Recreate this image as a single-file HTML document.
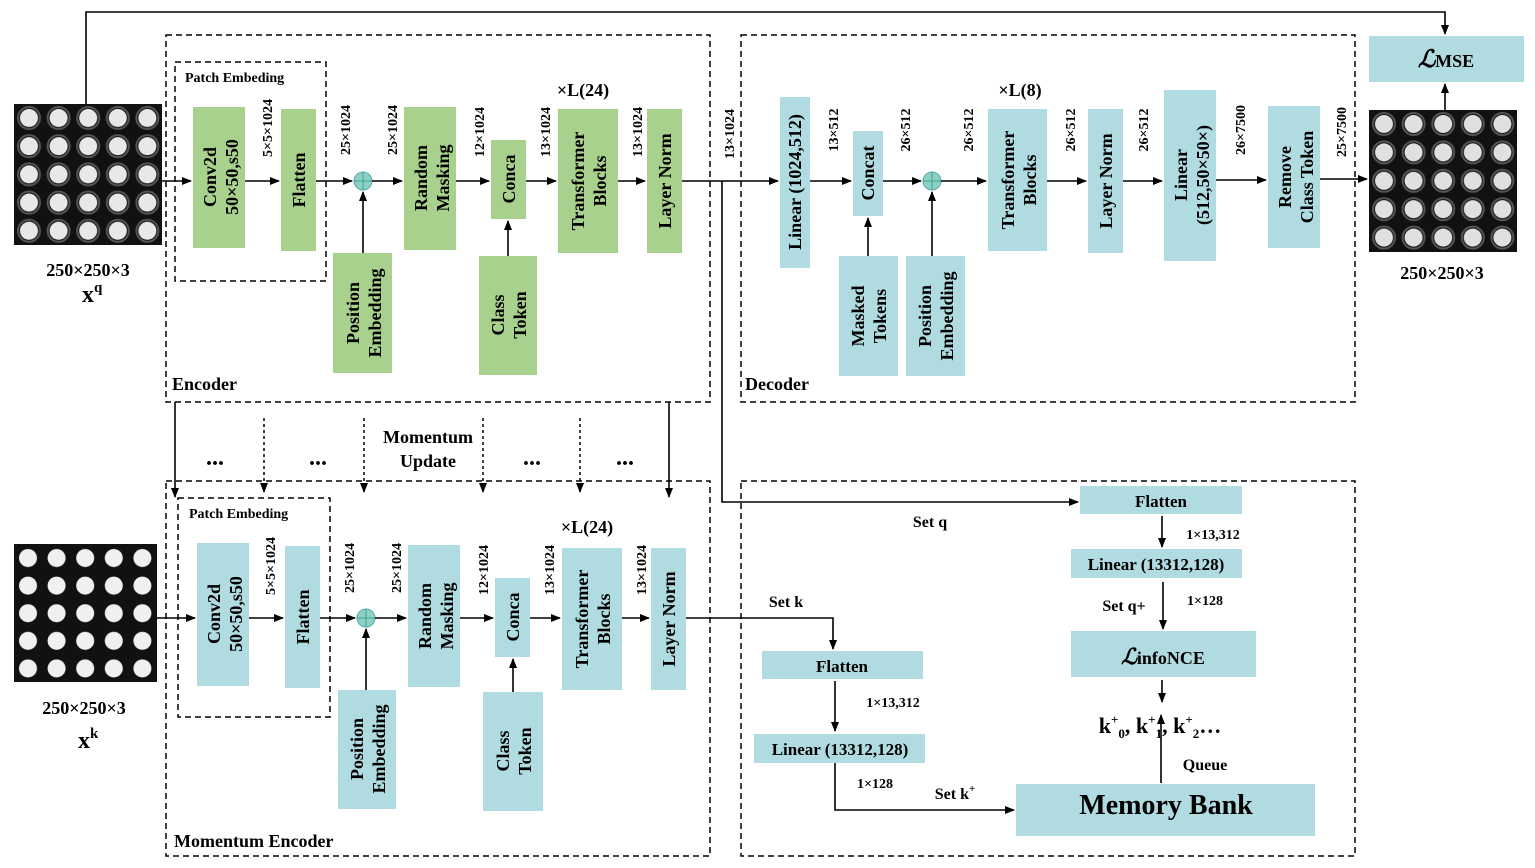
<!DOCTYPE html>
<html><head><meta charset="utf-8"><style>
html,body{margin:0;padding:0;background:#fff;}
svg{display:block;font-family:"Liberation Serif",serif;font-weight:bold;}
</style></head><body>
<svg width="1535" height="868" viewBox="0 0 1535 868" xmlns="http://www.w3.org/2000/svg">
<defs>
<marker id="a" markerWidth="10" markerHeight="8" refX="9" refY="4" orient="auto" markerUnits="userSpaceOnUse"><path d="M0,0 L10,4 L0,8 z" fill="#000"/></marker>
<pattern id="dots" x="14" y="104" width="29.6" height="28.2" patternUnits="userSpaceOnUse">
<rect width="29.6" height="28.2" fill="#111"/><circle cx="15" cy="14" r="9" fill="#e8e8e8"/><circle cx="15" cy="14" r="11" fill="none" stroke="#555" stroke-width="2"/></pattern>
<pattern id="dots2" x="14" y="544" width="28.6" height="27.6" patternUnits="userSpaceOnUse">
<rect width="28.6" height="27.6" fill="#111"/><circle cx="14" cy="14" r="9" fill="#f0f0f0"/></pattern>
<pattern id="dots3" x="1369" y="110" width="29.6" height="28.4" patternUnits="userSpaceOnUse">
<rect width="29.6" height="28.4" fill="#111"/><circle cx="15" cy="14" r="9" fill="#e0e0e0"/><circle cx="15" cy="14" r="11" fill="none" stroke="#555" stroke-width="2"/></pattern>
</defs>
<g fill="none" stroke="#000" stroke-width="1.5" stroke-dasharray="6,4">
<rect x="166" y="35" width="544" height="367"/>
<rect x="175" y="62" width="151" height="219"/>
<rect x="741" y="35" width="614" height="367"/>
<rect x="166" y="481" width="544" height="375"/>
<rect x="178" y="498" width="152" height="219"/>
<rect x="741" y="481" width="614" height="375"/>
</g>
<!-- images -->
<rect x="14" y="104" width="148" height="141" fill="url(#dots)"/>
<rect x="14" y="544" width="143" height="138" fill="url(#dots2)"/>
<rect x="1369" y="110" width="148" height="142" fill="url(#dots3)"/>
<!-- boxes encoder (green) -->
<g fill="#a9d18e">
<rect x="193" y="107" width="52" height="141"/>
<rect x="281" y="109" width="35" height="142"/>
<rect x="333" y="253" width="59" height="120"/>
<rect x="404" y="107" width="52" height="143"/>
<rect x="491" y="140" width="35" height="79"/>
<rect x="479" y="256" width="58" height="119"/>
<rect x="558" y="109" width="60" height="144"/>
<rect x="647" y="109" width="35" height="144"/>
</g>
<g fill="#b0dbe0">
<rect x="780" y="97" width="30" height="171"/>
<rect x="853" y="131" width="30" height="85"/>
<rect x="839" y="256" width="59" height="120"/>
<rect x="906" y="256" width="59" height="120"/>
<rect x="988" y="109" width="59" height="142"/>
<rect x="1088" y="109" width="35" height="144"/>
<rect x="1164" y="90" width="52" height="171"/>
<rect x="1268" y="106" width="52" height="142"/>
<rect x="1369" y="36" width="155" height="46"/>
<rect x="197" y="543" width="52" height="143"/>
<rect x="285" y="546" width="35" height="142"/>
<rect x="338" y="690" width="58" height="119"/>
<rect x="408" y="545" width="52" height="142"/>
<rect x="495" y="578" width="35" height="79"/>
<rect x="483" y="692" width="60" height="119"/>
<rect x="562" y="548" width="60" height="142"/>
<rect x="651" y="548" width="35" height="142"/>
<rect x="1080" y="486" width="162" height="28"/>
<rect x="1071" y="549" width="171" height="29"/>
<rect x="1071" y="631" width="185" height="46"/>
<rect x="1016" y="784" width="299" height="52"/>
<rect x="762" y="651" width="161" height="28"/>
<rect x="754" y="734" width="171" height="29"/>
</g>
<g fill="#8fcfc8" stroke="#5aa" stroke-width="1"><circle cx="363" cy="181" r="9"/><circle cx="932" cy="181" r="9"/><circle cx="366" cy="618" r="9"/></g>
<g stroke="#3a8" stroke-width="1"><path d="M354,181h18M363,172v18M923,181h18M932,172v18M357,618h18M366,609v18"/></g>
<!-- arrows -->
<g stroke="#000" stroke-width="1.6" fill="none" marker-end="url(#a)">
<path d="M162,181H191"/><path d="M245,181H279"/><path d="M316,181H352"/><path d="M363,253V192"/><path d="M372,181H402"/><path d="M456,181H489"/><path d="M526,181H556"/><path d="M508,256V221"/><path d="M618,181H645"/><path d="M682,181H778"/>
<path d="M810,181H851"/><path d="M883,181H921"/><path d="M868,256V218"/><path d="M932,256V192"/><path d="M941,181H986"/><path d="M1047,181H1086"/><path d="M1123,181H1162"/><path d="M1216,180H1266"/><path d="M1320,179H1367"/>
<path d="M86,104V12H1445V34"/><path d="M1445,110V84"/>
<path d="M157,618H195"/><path d="M249,618H283"/><path d="M320,618H355"/><path d="M366,690V629"/><path d="M375,618H406"/><path d="M460,618H493"/><path d="M530,618H560"/><path d="M513,692V659"/><path d="M622,618H649"/>
<path d="M686,618H833V649"/><path d="M722,181V502H1078"/>
<path d="M1162,516V547"/><path d="M1163,582V629"/><path d="M1162,680V702"/><path d="M1161,783V715"/>
<path d="M835,681V731"/><path d="M835,763V810H1014"/>
<path d="M175,402V497"/><path d="M669,402V497"/>
</g>
<g stroke="#000" stroke-width="1.5" fill="none" stroke-dasharray="3,3" marker-end="url(#a)">
<path d="M264,418V492"/><path d="M364,418V492"/><path d="M483,418V492"/><path d="M580,418V492"/>
</g>
<!-- horizontal texts -->
<g font-size="18" fill="#000">
<text x="172" y="390">Encoder</text>
<text x="745" y="390">Decoder</text>
<text x="174" y="847">Momentum  Encoder</text>
<text x="428" y="443" text-anchor="middle">Momentum</text>
<text x="428" y="467" text-anchor="middle">Update</text>
<text x="583" y="96" text-anchor="middle">×L(24)</text>
<text x="587" y="533" text-anchor="middle">×L(24)</text>
<text x="1020" y="96" text-anchor="middle">×L(8)</text>
<text x="88" y="276" text-anchor="middle">250×250×3</text>
<text x="84" y="714" text-anchor="middle">250×250×3</text>
<text x="1442" y="279" text-anchor="middle">250×250×3</text>
<text x="82" y="302" font-size="24">x<tspan font-size="15" dy="-10">q</tspan></text>
<text x="78" y="748" font-size="24">x<tspan font-size="15" dy="-10">k</tspan></text>
<text x="215" y="465" text-anchor="middle" font-size="24">...</text>
<text x="318" y="465" text-anchor="middle" font-size="24">...</text>
<text x="532" y="465" text-anchor="middle" font-size="24">...</text>
<text x="625" y="465" text-anchor="middle" font-size="24">...</text>
<text x="1161" y="507" text-anchor="middle" font-size="17">Flatten</text>
<text x="1156" y="570" text-anchor="middle" font-size="17">Linear (13312,128)</text>
<text x="842" y="672" text-anchor="middle" font-size="17">Flatten</text>
<text x="840" y="755" text-anchor="middle" font-size="17">Linear (13312,128)</text>
<text x="1166" y="814" text-anchor="middle" font-size="28">Memory Bank</text>
<text x="1163" y="664" text-anchor="middle" font-size="22" font-style="italic">ℒ<tspan font-style="normal" font-size="18">infoNCE</tspan></text>
<text x="1446" y="67" text-anchor="middle" font-size="24" font-style="italic">ℒ<tspan font-style="normal" font-size="18">MSE</tspan></text>
<text x="1160" y="733" text-anchor="middle" font-size="22">k<tspan font-size="13" dy="-9">+</tspan><tspan font-size="13" dy="14">0</tspan><tspan dy="-5">, k</tspan><tspan font-size="13" dy="-9">+</tspan><tspan font-size="13" dy="14">1</tspan><tspan dy="-5">, k</tspan><tspan font-size="13" dy="-9">+</tspan><tspan font-size="13" dy="14">2</tspan><tspan dy="-5">…</tspan></text>
<text x="930" y="527" text-anchor="middle" font-size="16">Set  q</text>
<text x="786" y="607" text-anchor="middle" font-size="16">Set  k</text>
<text x="1124" y="611" text-anchor="middle" font-size="16">Set  q+</text>
<text x="955" y="799" text-anchor="middle" font-size="16">Set  k<tspan font-size="11" dy="-7">+</tspan></text>
<text x="1205" y="770" text-anchor="middle" font-size="16">Queue</text>
<text x="1213" y="539" text-anchor="middle" font-size="14">1×13,312</text>
<text x="1205" y="605" text-anchor="middle" font-size="14">1×128</text>
<text x="893" y="707" text-anchor="middle" font-size="14">1×13,312</text>
<text x="875" y="788" text-anchor="middle" font-size="14">1×128</text>
<text x="185" y="82" font-size="14">Patch Embeding</text>
<text x="189" y="518" font-size="14">Patch Embeding</text>
</g>
<!-- vertical box texts -->
<g font-size="18" fill="#000" text-anchor="middle">
<text transform="translate(216,177) rotate(-90)">Conv2d</text><text transform="translate(238,177) rotate(-90)">50×50,s50</text>
<text transform="translate(305,180) rotate(-90)">Flatten</text>
<text transform="translate(359,313) rotate(-90)">Position</text><text transform="translate(381,313) rotate(-90)">Embedding</text>
<text transform="translate(427,178) rotate(-90)">Random</text><text transform="translate(449,178) rotate(-90)">Masking</text>
<text transform="translate(515,179) rotate(-90)">Conca</text>
<text transform="translate(504,315) rotate(-90)">Class</text><text transform="translate(526,315) rotate(-90)">Token</text>
<text transform="translate(584,181) rotate(-90)">Transformer</text><text transform="translate(606,181) rotate(-90)">Blocks</text>
<text transform="translate(671,181) rotate(-90)">Layer Norm</text>
<text transform="translate(801,182) rotate(-90)">Linear (1024,512)</text>
<text transform="translate(874,173) rotate(-90)">Concat</text>
<text transform="translate(864,316) rotate(-90)">Masked</text><text transform="translate(886,316) rotate(-90)">Tokens</text>
<text transform="translate(931,316) rotate(-90)">Position</text><text transform="translate(953,316) rotate(-90)">Embedding</text>
<text transform="translate(1014,180) rotate(-90)">Transformer</text><text transform="translate(1036,180) rotate(-90)">Blocks</text>
<text transform="translate(1112,181) rotate(-90)">Layer Norm</text>
<text transform="translate(1187,175) rotate(-90)">Linear</text><text transform="translate(1209,175) rotate(-90)">(512,50×50×)</text>
<text transform="translate(1291,177) rotate(-90)">Remove</text><text transform="translate(1313,177) rotate(-90)">Class Token</text>
<text transform="translate(220,614) rotate(-90)">Conv2d</text><text transform="translate(242,614) rotate(-90)">50×50,s50</text>
<text transform="translate(309,617) rotate(-90)">Flatten</text>
<text transform="translate(363,749) rotate(-90)">Position</text><text transform="translate(385,749) rotate(-90)">Embedding</text>
<text transform="translate(431,616) rotate(-90)">Random</text><text transform="translate(453,616) rotate(-90)">Masking</text>
<text transform="translate(519,617) rotate(-90)">Conca</text>
<text transform="translate(509,751) rotate(-90)">Class</text><text transform="translate(531,751) rotate(-90)">Token</text>
<text transform="translate(588,619) rotate(-90)">Transformer</text><text transform="translate(610,619) rotate(-90)">Blocks</text>
<text transform="translate(675,619) rotate(-90)">Layer Norm</text>
</g>
<!-- vertical dimension labels -->
<g font-size="14" fill="#000" text-anchor="middle">
<text transform="translate(272,128) rotate(-90)">5×5×1024</text>
<text transform="translate(350,130) rotate(-90)">25×1024</text>
<text transform="translate(397,130) rotate(-90)">25×1024</text>
<text transform="translate(484,132) rotate(-90)">12×1024</text>
<text transform="translate(550,132) rotate(-90)">13×1024</text>
<text transform="translate(642,132) rotate(-90)">13×1024</text>
<text transform="translate(734,134) rotate(-90)">13×1024</text>
<text transform="translate(838,130) rotate(-90)">13×512</text>
<text transform="translate(910,130) rotate(-90)">26×512</text>
<text transform="translate(973,130) rotate(-90)">26×512</text>
<text transform="translate(1075,130) rotate(-90)">26×512</text>
<text transform="translate(1148,130) rotate(-90)">26×512</text>
<text transform="translate(1245,130) rotate(-90)">26×7500</text>
<text transform="translate(1346,132) rotate(-90)">25×7500</text>
<text transform="translate(275,566) rotate(-90)">5×5×1024</text>
<text transform="translate(354,568) rotate(-90)">25×1024</text>
<text transform="translate(401,568) rotate(-90)">25×1024</text>
<text transform="translate(488,570) rotate(-90)">12×1024</text>
<text transform="translate(554,570) rotate(-90)">13×1024</text>
<text transform="translate(646,570) rotate(-90)">13×1024</text>
</g>
</svg>
</body></html>
